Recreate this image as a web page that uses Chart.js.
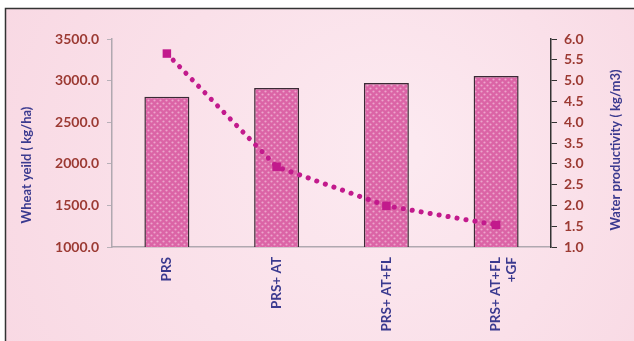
<!DOCTYPE html>
<html>
<head>
<meta charset="utf-8">
<script src="https://cdn.jsdelivr.net/npm/chart.js@4.4.0/dist/chart.umd.min.js"></script>
<style>
  html, body { margin: 0; padding: 0; background: #fff; }
  #wrap { position: relative; width: 634px; height: 341px; }
</style>
</head>
<body>
<div id="wrap"><canvas id="WheatChart" width="634" height="341"></canvas></div>
<script>
    // data
    var categories = ['PRS', 'PRS+ AT', 'PRS+ AT+FL', ['PRS+ AT+FL', '+GF']];
    var wheatYield = [2805, 2910, 2970, 3055];
    var waterProd = [5.65, 2.93, 1.99, 1.53];
    var yieldTicks = [1000, 1500, 2000, 2500, 3000, 3500];
    var prodTicks = [1.0, 1.5, 2.0, 2.5, 3.0, 3.5, 4.0, 4.5, 5.0, 5.5, 6.0];
    var leftTitle = 'Wheat yeild ( kg/ha)';
    var rightTitle = 'Water productivity ( kg/m3)';

    var tickColor = '#9c3a33';
    var titleColor = '#3b3a8f';

    //dotted bar fill//
    var pc = document.createElement('canvas');
    pc.width = 6; pc.height = 6;
    var p = pc.getContext('2d');
    p.fillStyle = '#db64a6';
    p.fillRect(0, 0, 6, 6);
    p.fillStyle = 'rgba(255,230,242,0.5)';
    p.beginPath(); p.arc(1.5, 1.5, 1.1, 0, Math.PI * 2); p.fill();
    p.beginPath(); p.arc(4.5, 4.5, 1.1, 0, Math.PI * 2); p.fill();
    var ctx = document.getElementById('WheatChart').getContext('2d');
    var barFill = ctx.createPattern(pc, 'repeat');

    //pink panel behind the chart//
    var panel = {
        id: 'panel',
        beforeDraw: function (chart) {
            var c = chart.ctx;
            c.save();
            c.fillStyle = '#ffffff';
            c.fillRect(0, 0, chart.width, chart.height);
            var g = c.createRadialGradient(400, 150, 20, 330, 180, 420);
            g.addColorStop(0, '#fce9f0');
            g.addColorStop(1, '#f8d7e2');
            c.fillStyle = g;
            c.fillRect(5, 8, chart.width - 5, chart.height - 8);
            c.strokeStyle = '#333';
            c.lineWidth = 1.5;
            c.beginPath();
            c.moveTo(5.5, chart.height);
            c.lineTo(5.5, 8.5);
            c.lineTo(chart.width, 8.5);
            c.stroke();
            c.restore();
        }
    };

    //axis titles, both read bottom to top//
    var axisTitles = {
        id: 'axisTitles',
        afterDraw: function (chart) {
            var c = chart.ctx;
            c.save();
            c.fillStyle = titleColor;
            c.font = 'bold 13px Lato';
            c.textAlign = 'center';
            c.textBaseline = 'middle';
            c.translate(27, 165);
            c.rotate(-Math.PI / 2);
            c.fillText(leftTitle, 0, 0);
            c.restore();
            c.save();
            c.fillStyle = titleColor;
            c.font = 'bold 13px Lato';
            c.textAlign = 'center';
            c.textBaseline = 'middle';
            c.translate(616, 150);
            c.rotate(-Math.PI / 2);
            c.fillText(rightTitle, 0, 0);
            c.restore();
        }
    };

    var data = {
        labels: categories,
        datasets: [{
            type: 'line',
            data: waterProd,
            yAxisID: 'y2',
            order: 0,
            borderColor: '#c21a8c',
            backgroundColor: '#c21a8c',
            borderWidth: 5,
            borderDash: [0.1, 9],
            borderCapStyle: 'round',
            pointStyle: 'rect',
            pointRadius: 6,
            pointBorderWidth: 0,
            tension: 0
        }, {
            type: 'bar',
            data: wheatYield,
            yAxisID: 'y',
            order: 1,
            backgroundColor: barFill,
            borderColor: '#3a2a35',
            borderWidth: 1.5,
            barPercentage: 1,
            categoryPercentage: 0.41
        }]
    };

    var myChart = new Chart(ctx, {
        type: 'bar',
        data: data,
        plugins: [panel, axisTitles],
        options: {
            responsive: false,
            animation: false,
            layout: { padding: { top: 39, left: 0, right: 0, bottom: 0 } },
            plugins: { legend: { display: false }, tooltip: { enabled: false } },
            scales: {
                x: {
                    grid: { display: false, drawTicks: true, tickLength: 4, color: '#b8b0b8' },
                    border: { display: true, color: '#b0a8b0', width: 1.5 },
                    ticks: {
                        color: titleColor,
                        font: { family: 'Lato', weight: 'bold', size: 13.5, lineHeight: 1.15 },
                        minRotation: 90, maxRotation: 90, padding: 6
                    },
                    afterFit: function (s) { s.height = 94; }
                },
                y: {
                    position: 'left',
                    min: 1000, max: 3500,
                    afterBuildTicks: function (s) { s.ticks = yieldTicks.map(function (v) { return { value: v }; }); },
                    grid: { display: true, drawOnChartArea: false, tickLength: 5, color: '#b8b0b8' },
                    border: { display: true, color: '#b0a8b0', width: 1.5 },
                    ticks: {
                        color: tickColor, padding: 8,
                        font: { family: 'Lato', weight: 'bold', size: 14 },
                        callback: function (v) { return v.toFixed(1); }
                    },
                    afterFit: function (s) { s.width = 112; }
                },
                y2: {
                    position: 'right',
                    min: 1, max: 6,
                    afterBuildTicks: function (s) { s.ticks = prodTicks.map(function (v) { return { value: v }; }); },
                    grid: { display: true, drawOnChartArea: false, tickLength: 6, color: '#333' },
                    border: { display: true, color: '#333', width: 1.5 },
                    ticks: {
                        color: tickColor, padding: 7,
                        font: { family: 'Lato', weight: 'bold', size: 14 },
                        callback: function (v) { return v.toFixed(1); }
                    },
                    afterFit: function (s) { s.width = 83; }
                }
            }
        }
    });
</script>
</body>
</html>
